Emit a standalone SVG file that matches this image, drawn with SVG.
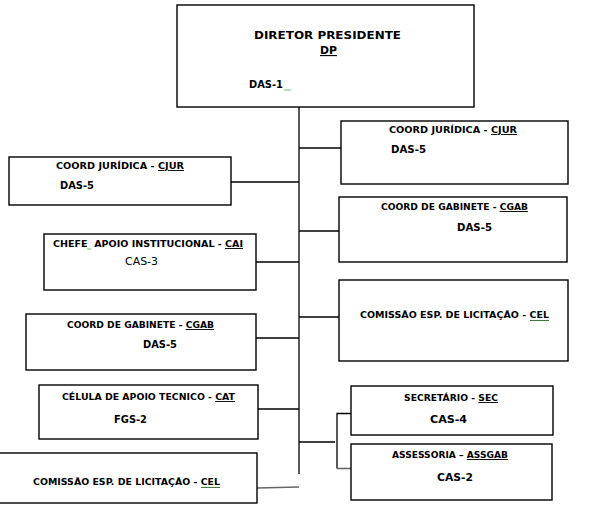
<svg xmlns="http://www.w3.org/2000/svg" width="591" height="532" viewBox="0 0 591 532">
<style>
rect.box{fill:#fff;stroke:#000;stroke-width:1.4}
text{font-family:"DejaVu Sans","Liberation Sans",sans-serif;font-weight:bold;fill:#000}
.t{font-size:9.3px}
.c{font-size:10.3px}
.r{font-weight:normal}
.h{font-size:11.3px}
.u{text-decoration:underline}
.ln{stroke:#000;stroke-width:1.3;fill:none}
.gr{stroke:#666;stroke-width:1.6;fill:none}
.sq{stroke:#3a9a3a;stroke-width:0.8;fill:none}
</style>
<rect width="591" height="532" fill="#fff"/>
<g id="connectors">
<line class="ln" x1="299" y1="107" x2="299" y2="474"/>
<line class="ln" x1="299" y1="148" x2="341" y2="148"/>
<line class="ln" x1="299" y1="231" x2="339" y2="231"/>
<line class="ln" x1="299" y1="317" x2="339" y2="317"/>
<line class="ln" x1="299" y1="442" x2="335" y2="442"/>
<line class="ln" x1="231" y1="182" x2="299" y2="182"/>
<line class="ln" x1="256" y1="262" x2="299" y2="262"/>
<line class="ln" x1="256" y1="338" x2="299" y2="338"/>
<line class="ln" x1="258" y1="409" x2="299" y2="409"/>
<line class="gr" x1="257" y1="488" x2="299" y2="487"/>
<polyline class="ln" points="357,413.5 337,413.5 337,468.5"/>
<line class="gr" x1="337" y1="468.5" x2="353" y2="468.5"/>
</g>
<g id="dp">
<rect class="box" x="177" y="5" width="297" height="102"/>
<text class="h" x="254" y="39" textLength="147" lengthAdjust="spacingAndGlyphs">DIRETOR PRESIDENTE</text>
<text class="h u" x="320" y="54" textLength="17" lengthAdjust="spacingAndGlyphs">DP</text>
<text class="c" x="249" y="88" textLength="34" lengthAdjust="spacingAndGlyphs">DAS-1</text>
<path class="sq" d="M284,89.5 l1,1 l1,-1 l1,1 l1,-1 l1,1 l1,-1 l1,1"/>
</g>
<g id="cjur-left">
<rect class="box" x="9" y="157" width="222" height="48"/>
<text class="t" x="56" y="169" textLength="128" lengthAdjust="spacingAndGlyphs">COORD JURÍDICA - <tspan class="u">CJUR</tspan></text>
<text class="c" x="60" y="189" textLength="34" lengthAdjust="spacingAndGlyphs">DAS-5</text>
</g>
<g id="cai">
<rect class="box" x="44" y="234" width="212" height="56"/>
<text class="t" x="53" y="247" textLength="190" lengthAdjust="spacingAndGlyphs" xml:space="preserve">CHEFE  APOIO INSTITUCIONAL - <tspan class="u">CAI</tspan></text>
<path class="sq" d="M87,248.5 l1,1 l1,-1 l1,1 l1,-1"/>
<text class="c r" x="125" y="265" textLength="33" lengthAdjust="spacingAndGlyphs">CAS-3</text>
</g>
<g id="cgab-left">
<rect class="box" x="26" y="314" width="230" height="56"/>
<text class="t" x="67" y="328" textLength="147" lengthAdjust="spacingAndGlyphs">COORD DE GABINETE - <tspan class="u">CGAB</tspan></text>
<text class="c" x="143" y="348" textLength="34" lengthAdjust="spacingAndGlyphs">DAS-5</text>
</g>
<g id="cat">
<rect class="box" x="39" y="385" width="219" height="54"/>
<text class="t" x="62" y="400" textLength="173" lengthAdjust="spacingAndGlyphs">CÉLULA DE APOIO TECNICO - <tspan class="u">CAT</tspan></text>
<text class="c" x="114" y="423" textLength="33" lengthAdjust="spacingAndGlyphs">FGS-2</text>
</g>
<g id="cel-left">
<rect class="box" x="-2" y="453" width="259" height="50"/>
<text class="t" x="33" y="485" textLength="187" lengthAdjust="spacingAndGlyphs">COMISSÃO ESP. DE LICITAÇÃO - CEL</text>
<line x1="201" y1="487.5" x2="220" y2="487.5" stroke="#2a6a2a" stroke-width="0.9"/>
</g>
<g id="cjur-right">
<rect class="box" x="341" y="121" width="227" height="63"/>
<text class="t" x="389" y="133" textLength="128" lengthAdjust="spacingAndGlyphs">COORD JURÍDICA - <tspan class="u">CJUR</tspan></text>
<text class="c" x="391" y="153" textLength="35" lengthAdjust="spacingAndGlyphs">DAS-5</text>
</g>
<g id="cgab-right">
<rect class="box" x="339" y="197" width="228" height="65"/>
<text class="t" x="381" y="210" textLength="147" lengthAdjust="spacingAndGlyphs">COORD DE GABINETE - <tspan class="u">CGAB</tspan></text>
<text class="c" x="457" y="231" textLength="35" lengthAdjust="spacingAndGlyphs">DAS-5</text>
</g>
<g id="cel-right">
<rect class="box" x="339" y="280" width="229" height="81"/>
<text class="t" x="360" y="318" textLength="189" lengthAdjust="spacingAndGlyphs">COMISSÃO ESP. DE LICITAÇÃO - CEL</text>
<line x1="530" y1="320.5" x2="549" y2="320.5" stroke="#2a6a2a" stroke-width="0.9"/>
</g>
<g id="sec">
<rect class="box" x="351" y="386" width="202" height="49"/>
<text class="t" x="404" y="401" textLength="94" lengthAdjust="spacingAndGlyphs">SECRETÁRIO - <tspan class="u">SEC</tspan></text>
<text class="c" x="430" y="423" textLength="37" lengthAdjust="spacingAndGlyphs">CAS-4</text>
</g>
<g id="assgab">
<rect class="box" x="351" y="444" width="201" height="56"/>
<text class="t" x="392" y="458" textLength="116" lengthAdjust="spacingAndGlyphs">ASSESSORIA – <tspan class="u">ASSGAB</tspan></text>
<text class="c" x="437" y="481" textLength="36" lengthAdjust="spacingAndGlyphs">CAS-2</text>
</g>
</svg>
